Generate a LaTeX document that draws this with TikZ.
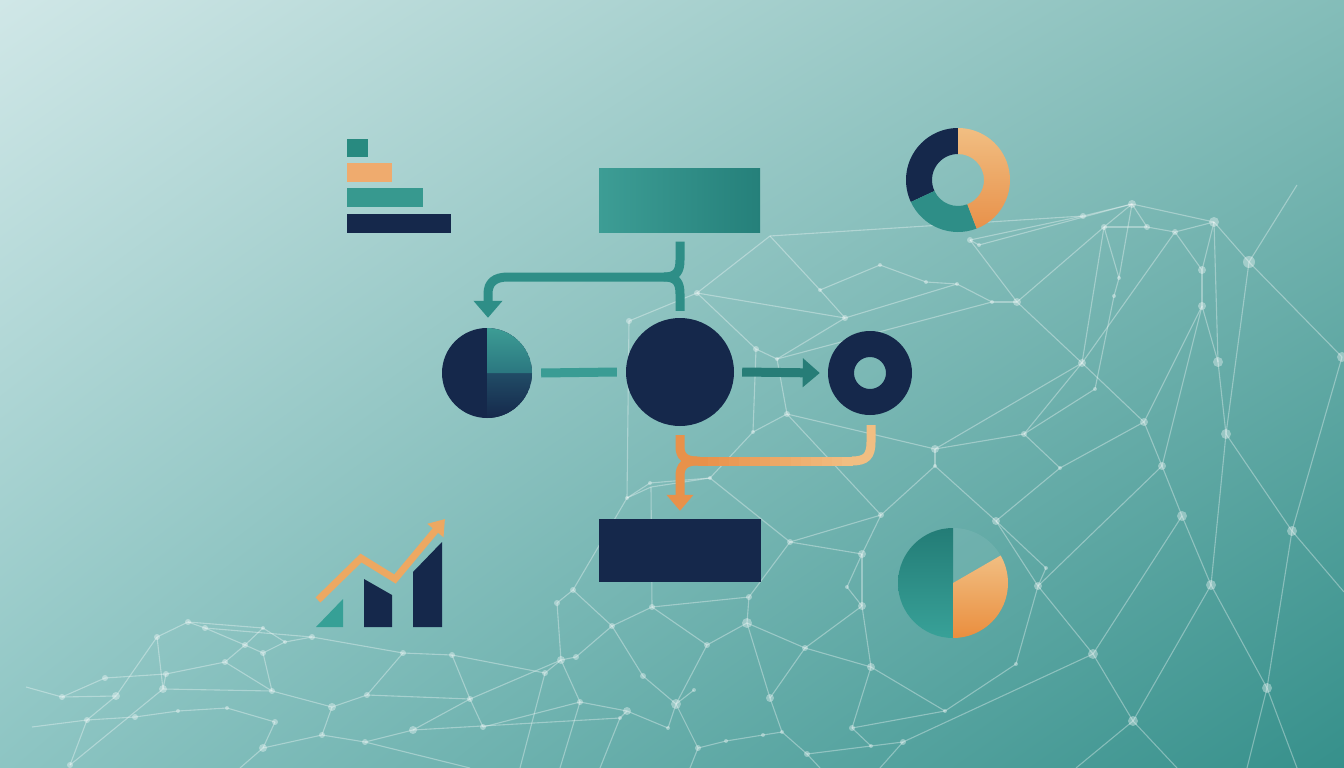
\documentclass[tikz,border=0pt]{standalone}
\usetikzlibrary{arrows.meta,calc,shadings}
\definecolor{navy}{HTML}{15284B}
\definecolor{bgUL}{HTML}{D0E7E7}
\definecolor{bgUR}{HTML}{84BDB9}
\definecolor{bgLL}{HTML}{8DC5C3}
\definecolor{bgLR}{HTML}{36908B}
\definecolor{tealL}{HTML}{3D9D95}
\definecolor{tealD}{HTML}{25807A}
\definecolor{tealM}{HTML}{2E8E87}
\definecolor{tealA}{HTML}{277D77}
\definecolor{tealB}{HTML}{3A9C94}
\definecolor{tealC}{HTML}{288A80}
\definecolor{tealE}{HTML}{37998F}
\definecolor{tealF}{HTML}{36A096}
\definecolor{orBar}{HTML}{EFAB6E}
\definecolor{oDark}{HTML}{E8914A}
\definecolor{oLight}{HTML}{F1BE82}
\definecolor{oMid}{HTML}{EDA862}
\definecolor{oDeep}{HTML}{EA8E3E}
\definecolor{pieTealTop}{HTML}{237C76}
\definecolor{pieTealBot}{HTML}{38A198}
\definecolor{navyTeal}{HTML}{214C66}
\definecolor{tealPieBot}{HTML}{2B7780}
\tikzset{
  net/.style={draw=white, draw opacity=0.34, line width=1.1pt},
  dot/.style={fill=white, fill opacity=0.36},
  flow/.style={line width=9pt, line cap=butt},
  boxnode/.style={rectangle, inner sep=0pt, minimum width=161pt, minimum height=64pt},
  roundnode/.style={circle, inner sep=0pt},
}
\begin{document}
\begin{tikzpicture}[x=1pt,y=-1pt]
\useasboundingbox (0,0) rectangle (1344,768);
\shade[upper left=bgUL, upper right=bgUR, lower left=bgLL, lower right=bgLR] (0,0) rectangle (1344,768);

% ---------- network ----------
\foreach \n/\x/\y in {
 a1/1132/204, a2/1214/222, a3/1249/262, a4/1104/227, a5/1147/227, a6/1175/232, a7/1083/216,
 a8/1202/270, a9/1202/306, a10/1218/362, a11/1226/434, a12/1144/422, a13/1162/466, a14/1082/363,
 a15/1017/302, a16/1119/278, a17/1114/296, a18/1095/389, a19/1024/434, a20/935/449, a21/957/284,
 a22/926/282, a23/992/302, a24/970/240, a25/979/245, a26/1342/357, a27/1297/185,
 c1/697/293, c2/770/236, c3/629/321, c4/756/349, c5/777/359, c6/787/414, c7/753/432, c8/845/318,
 c9/710/478, c10/627/498, c11/650/483, c12/820/290, c13/880/265,
 b1/1182/516, b2/1292/531, b3/1211/585, b4/1093/654, b5/1133/721, b6/1267/688, b7/1038/586,
 b8/996/521, b9/1016/664, b10/945/711, b11/903/742, b12/1046/568, b13/1060/468, b14/935/466,
 e2/1344/592, e3/1247/768, e4/1297/768, e5/1177/768, e6/1076/768,
 m1/627/498, m2/651/487, m3/790/542, m4/862/554, m5/881/515, m6/862/606, m7/847/587, m8/749/597,
 m9/747/623, m10/652/607, m11/612/626, m12/573/590, m13/557/603, m14/561/660, m15/576/657,
 m16/545/673, m17/707/645, m18/805/648, m19/871/667, m20/770/698, m21/676/704, m22/694/690,
 m23/643/676, m24/580/702, m25/627/711, m26/620/718, m27/668/728, m28/698/748, m29/726/741,
 m30/763/735, m31/782/732, m32/807/754, m33/852/728, m34/871/746,
 z1/690/768, z2/820/768, z3/600/768, z4/560/768, z5/880/768, z6/520/768, z7/470/768, z8/240/768,
 l1/188/622, l2/205/628, l3/157/637, l4/263/628, l5/245/645, l6/312/637, l7/285/642, l8/403/653,
 l9/452/655, l10/163/689, l11/116/696, l12/87/720, l13/70/765, l14/263/748, l15/332/707,
 l16/367/695, l17/413/730, l18/470/699, l19/272/691, l20/322/735, l21/365/742, l22/62/697,
 l23/26/687, l24/32/727, l25/135/717, l26/178/711, l27/227/708, l28/275/722, l29/225/662,
 l30/263/653, l31/166/674, l32/105/678, l33/483/727}
  \coordinate (\n) at (\x,\y);

\foreach \u/\v in {
 c3/c1, c1/c2, c2/a7, c1/c8, c8/c12, c12/c13, c13/a22, c8/a21, c4/c5, c5/c8, c4/c7, c6/c7, c6/c5,
 c6/a20, c7/c9, c9/c11, c11/c10, c10/m1, c9/m3, c3/c10, c1/c4, c2/c12, c5/a23, c6/m5,
 a7/a1, a1/a2, a1/a4, a1/a5, a1/a16, a4/a5, a5/a6, a6/a2, a2/a8, a2/a3, a2/a10, a8/a9, a6/a8,
 a9/a10, a10/a11, a3/a11, a3/a26, a3/a27, a4/a14, a4/a16, a16/a17, a17/a18, a6/a14, a14/a12,
 a14/a19, a9/a12, a9/a13, a12/a13, a7/a24, a1/a25, a24/a25, a24/a15, a15/a4, a15/a14, a23/a21,
 a21/a22, a23/a15, a20/a19, a20/a14, a13/b1, a11/b3, a11/b2, a26/b2, a18/a19,
 b2/e2, b2/b6, b1/b3, b3/b6, b3/b5, b1/b4, b4/b5, b4/b7, b7/b8, b7/a13, b7/b9, b8/b13, b8/b12,
 b12/b7, b9/b10, b5/e5, b5/e6, b6/e3, b6/e4, b4/b11, b13/a12, b14/b8, b14/a20, b14/m5, b13/a19,
 b10/m33, m19/b10,
 m1/m2, m1/m12, m3/m4, m3/m5, m5/m4, m4/m7, m7/m6, m4/m6, m6/m19, m6/m18, m3/m8, m8/m9, m9/m17,
 m9/m18, m9/m20, m10/m11, m10/m17, m10/m8, m12/m13, m13/m14, m14/m15, m14/m16, m11/m15, m17/m21,
 m21/m22, m21/m23, m23/m11, m21/m28, m18/m20, m20/m31, m19/m33, m33/m34, m34/b11, m32/m34,
 m31/m32, m30/m31, m29/m30, m28/m29, m27/m21, m25/m24, m25/m26, m25/m27, m24/m14, m19/m18,
 m2/m10, m12/m11, m2/c9,
 m28/z1, m32/z2, m26/z3, m24/z4, b11/z5, m16/z6,
 l1/l2, l1/l3, l1/l4, l2/l5, l2/l6, l3/l10, l3/l11, l4/l5, l4/l7, l6/l8, l8/l9, l5/l29, l5/l30,
 l29/l31, l31/l32, l32/l22, l22/l23, l22/l11, l11/l12, l12/l13, l12/l24, l10/l19, l19/l15,
 l15/l16, l16/l18, l15/l20, l20/l21, l17/l18, l17/l21, l14/l20, l14/l28, l28/l27, l27/l26,
 l26/l25, l25/l12, l10/l13, l9/l18, l18/l33, l30/l19, l30/l7, l6/l7, l9/m16, l33/m24, l18/m14,
 l17/m26, l21/z7, l14/z8, l29/l19, l31/l10, l8/l16}
  \draw[net] (\u) -- (\v);

\foreach \n/\r in {
 a1/4, a2/5, a3/6, a4/3, a5/3, a6/3, a7/3, a8/4, a9/4, a10/5, a11/5, a12/4, a13/4, a14/4, a15/4,
 a16/2, a17/2, a18/2, a19/3, a20/4, a21/2, a22/2, a23/2, a24/3, a25/2, a26/5,
 c1/3, c3/3, c4/3, c5/2, c6/3, c7/2, c8/3, c9/2, c10/2, c11/2, c12/2, c13/2,
 b1/5, b2/5, b3/5, b4/5, b5/5, b6/5, b7/4, b8/4, b9/2, b10/2, b11/3, b12/2, b13/2, b14/2,
 m3/3, m4/4, m5/3, m6/4, m7/2, m8/3, m9/5, m10/3, m11/3, m12/3, m13/3, m14/4, m15/3, m16/3,
 m17/3, m18/3, m19/4, m20/4, m21/5, m22/2, m23/3, m24/3, m25/4, m26/2, m27/2, m28/3, m29/2,
 m30/2, m31/2, m32/3, m33/3, m34/2,
 l1/3, l2/3, l3/3, l4/2, l5/3, l6/3, l7/2, l8/3, l9/3, l10/4, l11/4, l12/3, l13/3, l14/4, l15/4,
 l16/3, l17/4, l18/3, l19/3, l20/3, l21/3, l22/3, l25/3, l26/2, l27/2, l28/3, l29/3, l30/3,
 l31/3, l32/3, l33/3}
  \fill[dot] (\n) circle[radius=\r pt];

% ---------- bar chart (top left) ----------
\fill[tealC] (347,139) rectangle (368,157);
\fill[orBar] (347,163) rectangle (392,182);
\fill[tealE] (347,188) rectangle (423,207);
\fill[navy]  (347,214) rectangle (451,233);

% ---------- growth chart (bottom left) ----------
\fill[tealF] (316,627) -- (343,599) -- (343,627) -- cycle;
\fill[navy] (364,627) -- (364,579) -- (392,595) -- (392,627) -- cycle;
\fill[navy] (413,627) -- (413,572) -- (442,542) -- (442,627) -- cycle;
\draw[oMid, line width=7pt, -{Triangle[width=20pt,length=15pt]}]
  (318,600) -- (361,558) -- (395,579) -- (445,519);

% ---------- main nodes ----------
\node[boxnode, left color=tealL, right color=tealD] (top) at (679.5,200.5) {};
\node[boxnode, fill=navy, minimum width=162pt, minimum height=63pt] (bot) at (680,550.5) {};
\node[roundnode, fill=navy, minimum size=108pt] (hub) at (680,372) {};
\node[roundnode, minimum size=90pt] (pieL) at (487,373) {};
\node[roundnode, minimum size=84pt] (ring) at (870,373) {};
\node[roundnode, minimum size=104pt] (donut) at (958,180) {};
\node[roundnode, minimum size=110pt] (pieR) at (953,583) {};

% left pie
\begin{scope}
  \clip (pieL) circle[radius=45pt];
  \fill[navy] (pieL) circle[radius=45pt];
  \shade[top color=navyTeal, bottom color=navy] (pieL.center) -- ++(0:46pt) arc[start angle=0, end angle=-90, radius=46pt] -- cycle;
  \shade[top color=tealL, bottom color=tealPieBot] (pieL.center) -- ++(90:46pt) arc[start angle=90, end angle=0, radius=46pt] -- cycle;
\end{scope}

% ring
\fill[navy, even odd rule] (ring) circle[radius=42pt] (ring) circle[radius=16pt];

% donut
\fill[navy] (donut.center) ++(90:52pt) arc[start angle=90, end angle=205, radius=52pt]
  -- ($(donut.center)+(205:26pt)$) arc[start angle=205, end angle=90, radius=26pt] -- cycle;
\fill[tealM] (donut.center) ++(205:52pt) arc[start angle=205, end angle=291, radius=52pt]
  -- ($(donut.center)+(291:26pt)$) arc[start angle=291, end angle=205, radius=26pt] -- cycle;
\shade[top color=oLight, bottom color=oDark] (donut.center) ++(291:52pt) arc[start angle=291, end angle=450, radius=52pt]
  -- ($(donut.center)+(90:26pt)$) arc[start angle=90, end angle=-69, radius=26pt] -- cycle;

% right pie
\fill[white, fill opacity=0.07] (pieR.center) -- ++(30:55pt) arc[start angle=30, end angle=90, radius=55pt] -- cycle;
\shade[top color=pieTealTop, bottom color=pieTealBot] (pieR.center) -- ++(90:55pt) arc[start angle=90, end angle=270, radius=55pt] -- cycle;
\shade[top color=oLight, bottom color=oDeep] (pieR.center) -- ++(270:55pt) arc[start angle=270, end angle=390, radius=55pt] -- cycle;

% ---------- connectors ----------
% pie -> hub
\draw[flow, tealB] ($(pieL.east)+(9,0)$) -- ($(hub.west)+(-9,0)$);
% hub -> ring
\draw[flow, tealA, -{Triangle[width=28pt,length=17pt]}] ($(hub.east)+(8,0)$) -- ($(ring.west)+(-8,0)$);
% teal fork from top box
\coordinate (tj) at (664,277);
\draw[flow, tealM, -{Triangle[width=28pt,length=17pt]}]
  ($(top.south)+(0.5,9)$) -- (680,260) .. controls (680,272) and (676,277) .. (tj)
  -- (508,277) .. controls (494,277) and (488,283) .. (488,294) -- ($(pieL.north)+(1,-10)$);
\draw[flow, tealM] (tj) .. controls (676,277) and (680,282) .. (680,294) -- ($(hub.north)+(0,-7)$);
% orange fork to bottom box
\coordinate (oj) at (697,461);
\draw[flow, oDark] ($(hub.south)+(0,9)$) -- (680,447) .. controls (680,456) and (685,461) .. (oj) -- (700,461);
\draw[flow, oDark, -{Triangle[width=26pt,length=16pt]}]
  (oj) .. controls (685,461) and (680,466) .. (680,476) -- ($(bot.north)+(0,-8)$);
\foreach \i in {0,...,14} {
  \pgfmathtruncatemacro\p{\i*100/14}
  \draw[flow, color=oLight!\p!oDark] ({698+\i*10.3},461) -- ({698+\i*10.3+10.8},461);
}
\draw[flow, oLight] (852,461) .. controls (866,461) and (871,456) .. (871,442) -- ($(ring.south)+(1,10)$);
\end{tikzpicture}
\end{document}
